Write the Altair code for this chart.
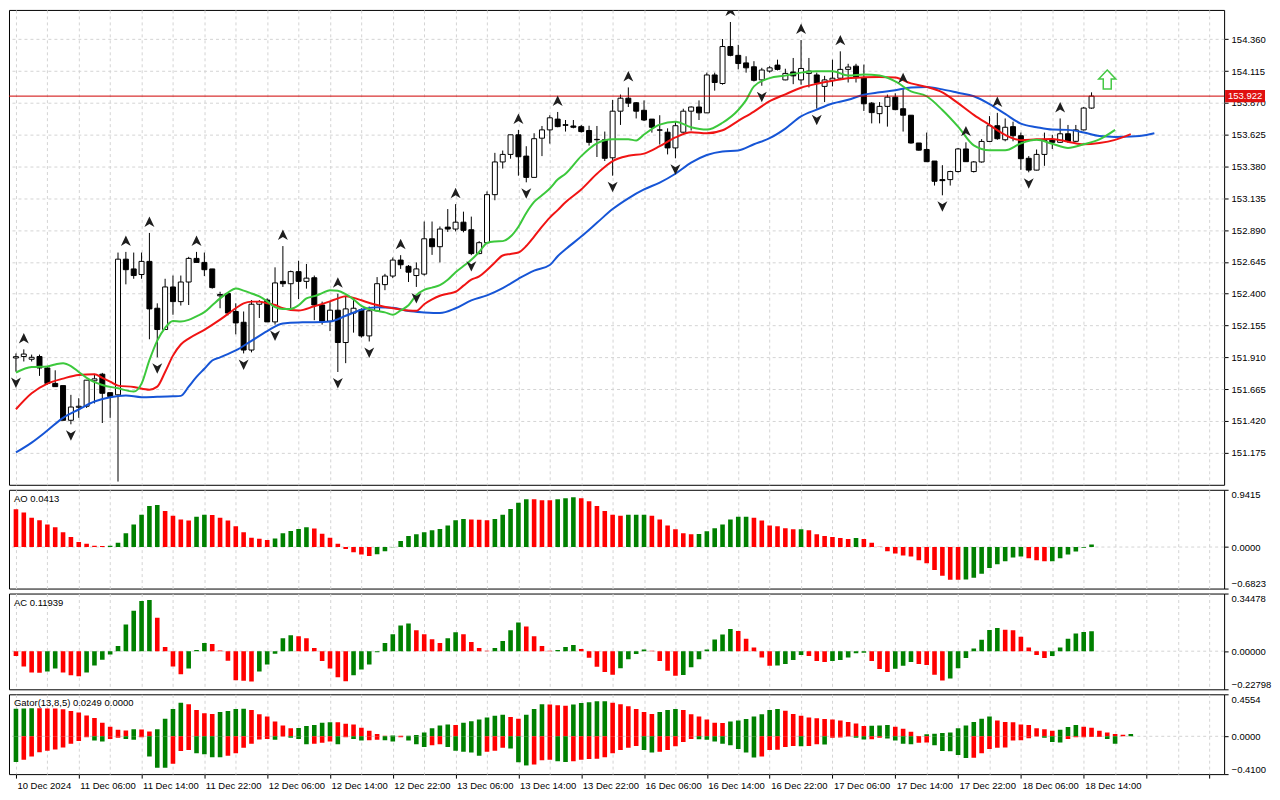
import altair as alt
import pandas as pd

FONT = "Liberation Sans"
FS = 9.5
GREEN = "#008000"
RED = "#ff0000"
GRID = "#d4d4d4"

# ---------------- price data (H1 bars, index 0 = 10 Dec 22:00) ----------------
OPENS = [151.905,
 151.916,151.895,151.916,151.828,151.709,151.692,151.425,151.525,151.533,151.729,
 151.780,151.638,151.621,152.666,152.591,152.548,152.649,152.288,152.124,152.452,
 152.339,152.490,152.672,152.641,152.591,152.384,152.402,152.263,152.180,151.966,
 152.319,152.351,152.183,152.495,152.477,152.570,152.495,152.523,152.313,152.188,
 152.273,152.024,152.251,152.276,152.075,152.268,152.470,152.536,152.659,152.611,
 152.540,152.551,152.823,152.762,152.913,152.898,152.951,152.893,152.709,152.793,
 153.163,153.415,153.473,153.624,153.460,153.296,153.598,153.662,153.745,153.702,
 153.692,153.687,153.657,153.589,153.586,153.447,153.806,153.906,153.871,153.813,
 153.745,153.662,153.644,153.523,153.644,153.806,153.838,153.793,154.085,154.019,
 154.304,154.236,154.178,154.148,154.047,154.115,154.161,154.047,154.108,154.047,
 154.097,154.085,153.997,154.044,154.060,154.128,154.153,154.065,153.868,153.787,
 153.843,153.914,153.825,153.775,153.561,153.511,153.422,153.279,153.279,153.341,
 153.515,153.341,153.415,153.573,153.694,153.586,153.687,153.617,153.443,153.352,
 153.473,153.586,153.566,153.632,153.574,153.662,153.830]
HIGHS = [151.940,
 151.971,151.931,151.931,151.843,151.810,151.692,151.621,151.595,151.734,151.782,
 151.790,151.638,152.717,152.722,152.717,152.717,152.868,152.326,152.515,152.540,
 152.540,152.684,152.722,152.717,152.591,152.415,152.402,152.326,152.263,152.351,
 152.351,152.364,152.603,152.767,152.578,152.654,152.629,152.540,152.339,152.339,
 152.400,152.381,152.370,152.288,152.301,152.528,152.553,152.679,152.697,152.621,
 152.641,152.956,152.956,152.918,153.052,153.090,153.032,152.994,152.805,153.188,
 153.485,153.503,153.624,153.662,153.536,153.636,153.692,153.775,153.800,153.738,
 153.738,153.700,153.694,153.692,153.649,153.893,153.934,153.989,153.876,153.889,
 153.745,153.775,153.674,153.725,153.825,153.843,153.889,154.103,154.103,154.362,
 154.493,154.317,154.229,154.191,154.140,154.153,154.203,154.133,154.216,154.354,
 154.216,154.103,154.078,154.203,154.267,154.171,154.171,154.165,153.876,153.876,
 153.934,153.944,153.976,153.775,153.561,153.641,153.422,153.390,153.347,153.523,
 153.566,153.422,153.591,153.768,153.793,153.750,153.725,153.641,153.460,153.511,
 153.641,153.624,153.750,153.700,153.700,153.838,153.951]
LOWS = [151.800,
 151.878,151.878,151.767,151.699,151.684,151.425,151.394,151.444,151.520,151.555,
 151.404,151.444,150.953,152.472,152.515,152.515,152.049,151.910,152.124,152.238,
 152.309,152.313,152.641,152.536,152.439,152.288,152.233,152.087,151.940,151.948,
 152.213,152.183,152.162,152.452,152.288,152.359,152.439,152.196,152.162,152.112,
 151.797,151.865,152.100,152.062,152.032,152.263,152.427,152.520,152.591,152.490,
 152.452,152.540,152.699,152.641,152.876,152.880,152.873,152.697,152.704,152.793,
 153.120,153.364,153.440,153.309,153.258,153.296,153.460,153.556,153.682,153.649,
 153.674,153.641,153.541,153.453,153.422,153.309,153.700,153.838,153.750,153.730,
 153.641,153.549,153.473,153.443,153.641,153.657,153.738,153.793,153.964,154.010,
 154.229,154.128,154.103,154.035,154.002,154.103,154.120,154.044,154.014,154.010,
 153.989,153.825,153.876,153.997,154.052,154.027,154.027,153.808,153.712,153.712,
 153.687,153.813,153.649,153.556,153.503,153.417,153.233,153.158,153.233,153.334,
 153.417,153.334,153.409,153.568,153.586,153.574,153.574,153.354,153.335,153.350,
 153.385,153.515,153.561,153.561,153.568,153.657,153.825]
CLOSES = [151.915,
 151.935,151.910,151.828,151.709,151.684,151.425,151.527,151.533,151.734,151.744,
 151.633,151.608,152.666,152.585,152.540,152.649,152.283,152.124,152.452,152.339,
 152.490,152.672,152.641,152.585,152.447,152.394,152.251,152.175,151.966,152.319,
 152.339,152.183,152.483,152.477,152.570,152.495,152.520,152.313,152.188,152.273,
 152.024,152.283,152.288,152.075,152.268,152.477,152.536,152.659,152.623,152.566,
 152.591,152.823,152.762,152.898,152.898,152.951,152.888,152.709,152.793,153.163,
 153.415,153.473,153.624,153.455,153.296,153.594,153.662,153.755,153.687,153.697,
 153.682,153.649,153.566,153.586,153.443,153.806,153.906,153.868,153.806,153.738,
 153.682,153.660,153.523,153.694,153.806,153.838,153.793,154.085,154.027,154.304,
 154.236,154.173,154.140,154.044,154.123,154.140,154.128,154.097,154.078,154.135,
 154.115,154.022,154.047,154.060,154.128,154.146,154.065,153.863,153.795,153.843,
 153.914,153.818,153.775,153.561,153.506,153.417,153.266,153.271,153.341,153.515,
 153.417,153.415,153.573,153.694,153.594,153.682,153.617,153.440,153.352,153.473,
 153.581,153.566,153.632,153.574,153.662,153.830,153.922]

UP_FRACTALS = [1, 14, 17, 23, 34, 41, 49, 56, 64, 69, 78, 91, 100, 105, 113, 121, 125, 133]
DOWN_FRACTALS = [0, 7, 13, 18, 29, 33, 41, 45, 51, 58, 65, 76, 84, 95, 102, 118, 129]

# Alligator lines (bar index, price) as drawn (already shifted)
JAW_IDX = [0,2,4,6,8,10,12,14,16,18,20,21,22,23,24,25,26,28,30,32,34,36,38,40,42,44,46,48,50,52,54,56,58,60,62,64,66,68,69,70,
           72,74,76,78,80,82,84,86,88,90,92,94,96,98,100,102,104,106,108,110,112,114,116,118,120,122,124,126,128,130,132,134,136,138,140,142,144,145]
JAW_VAL = [151.177,151.253,151.346,151.444,151.508,151.570,151.603,151.616,151.603,151.606,151.610,151.613,151.684,151.759,151.822,151.885,151.910,151.963,152.037,152.112,
           152.171,152.179,152.180,152.185,152.230,152.277,152.296,152.291,152.266,152.256,152.251,152.288,152.349,152.387,152.443,152.515,152.578,152.621,152.689,152.742,
           152.840,152.946,153.052,153.135,153.203,153.256,153.324,153.409,153.468,153.496,153.503,153.551,153.598,153.672,153.766,153.818,153.865,153.894,153.933,153.951,
           153.967,153.989,153.992,153.974,153.948,153.921,153.861,153.785,153.710,153.683,153.664,153.662,153.642,153.614,153.608,153.611,153.623,153.636]
TEETH_IDX = [0,2,4,6,8,10,11,12,13,15,17,18,19,20,21,22,24,26,28,29,30,31,32,33,34,36,38,40,41,42,43,44,46,48,50,51,52,53,54,55,
             56,57,58,59,60,61,62,63,64,65,66,67,68,69,70,72,74,76,78,80,82,84,86,88,90,92,94,96,98,100,102,104,106,108,110,112,114,116,118,120,
             122,124,126,128,130,132,134,136,138,140,142]
TEETH_VAL = [151.510,151.633,151.707,151.746,151.774,151.780,151.752,151.722,151.692,151.682,151.661,151.684,151.797,151.923,152.009,152.054,152.122,152.200,152.288,152.326,
             152.339,152.339,152.326,152.313,152.288,152.271,152.303,152.341,152.364,152.381,152.368,152.349,152.313,152.288,152.271,152.268,152.319,152.356,152.384,152.400,
             152.415,152.462,152.508,152.533,152.583,152.641,152.694,152.706,152.717,152.767,152.840,152.916,152.986,153.044,153.105,153.203,153.324,153.422,153.462,153.479,
             153.536,153.604,153.644,153.636,153.659,153.732,153.803,153.883,153.936,153.987,154.017,154.040,154.060,154.067,154.070,154.065,154.020,153.993,153.951,153.868,
             153.778,153.700,153.623,153.583,153.589,153.592,153.571,153.551,153.561,153.585,153.629]
LIPS_IDX = [0,2,4,5,6,7,8,9,10,11,13,15,16,17,18,19,20,21,22,23,24,25,26,27,28,29,30,31,32,33,34,35,36,37,38,39,40,41,42,43,
            44,45,46,47,48,49,50,51,52,53,54,55,56,57,58,59,60,61,62,63,64,65,66,67,68,69,70,72,74,76,78,79,80,82,84,86,88,90,92,93,
            94,96,98,100,102,104,106,108,110,112,114,116,118,120,122,124,126,128,130,132,134,136,138,140]
LIPS_VAL = [151.793,151.835,151.840,151.855,151.865,151.843,151.797,151.752,151.719,151.697,151.671,151.646,151.707,151.888,152.039,152.137,152.190,152.185,152.198,152.226,
            152.258,152.311,152.364,152.409,152.440,152.424,152.402,152.379,152.341,152.296,152.282,152.283,152.311,152.364,152.381,152.404,152.427,152.422,152.396,152.356,
            152.306,152.281,152.268,152.256,152.238,152.271,152.311,152.389,152.430,152.447,152.466,152.507,152.566,152.613,152.661,152.721,152.791,152.802,152.805,152.840,
            152.916,153.022,153.107,153.158,153.211,153.279,153.324,153.460,153.558,153.589,153.589,153.581,153.626,153.702,153.725,153.682,153.664,153.717,153.815,153.891,
            153.997,154.061,154.080,154.103,154.114,154.114,154.080,154.088,154.080,154.035,153.959,153.921,153.815,153.687,153.543,153.505,153.505,153.558,153.585,153.555,
            153.523,153.551,153.589,153.662]

# ---------------- oscillators ----------------
AO = [0.621,0.568,0.483,0.441,0.372,0.324,0.244,0.165,0.085,0.053,
      0.021,0.018,0.022,0.069,0.228,0.372,0.531,0.674,0.690,0.594,
      0.515,0.451,0.435,0.499,0.531,0.529,0.483,0.435,0.340,0.244,
      0.154,0.138,0.117,0.140,0.228,0.265,0.297,0.324,0.303,0.218,
      0.154,0.053,-0.032,-0.085,-0.122,-0.149,-0.117,-0.069,-0.005,0.101,
      0.180,0.212,0.244,0.276,0.297,0.356,0.441,0.462,0.451,0.449,
      0.441,0.462,0.531,0.626,0.727,0.786,0.784,0.770,0.768,0.786,
      0.801,0.817,0.801,0.754,0.674,0.594,0.531,0.515,0.531,0.532,
      0.533,0.515,0.451,0.356,0.292,0.228,0.212,0.214,0.260,0.308,
      0.372,0.451,0.499,0.500,0.483,0.435,0.356,0.340,0.308,0.292,
      0.294,0.276,0.212,0.180,0.165,0.149,0.133,0.149,0.133,0.069,
      0.005,-0.069,-0.106,-0.138,-0.154,-0.218,-0.265,-0.377,-0.472,-0.536,
      -0.538,-0.535,-0.504,-0.441,-0.345,-0.281,-0.234,-0.170,-0.154,-0.186,
      -0.218,-0.234,-0.232,-0.186,-0.122,-0.074,-0.011,0.0413]
AC = [-0.0292,-0.0916,-0.1267,-0.1286,-0.1208,-0.1033,-0.1267,-0.1442,-0.1501,-0.1267,
      -0.0858,-0.0507,-0.0195,0.0312,0.1598,0.2417,0.3001,0.3060,0.2007,0.0253,
      -0.0916,-0.1384,-0.1033,0.0078,0.0487,0.0429,0.0039,-0.0565,-0.1735,-0.1774,
      -0.1813,-0.1208,-0.0799,-0.0156,0.0780,0.0955,0.0897,0.0780,0.0195,-0.0585,
      -0.1033,-0.1559,-0.1793,-0.1442,-0.1091,-0.0799,-0.0058,0.0487,0.1013,0.1540,
      0.1657,0.1247,0.1013,0.0721,0.0487,0.0780,0.1130,0.1013,0.0546,0.0195,
      0.0019,0.0195,0.0604,0.1247,0.1715,0.1481,0.0897,0.0312,0.0019,0.0078,
      0.0253,0.0370,0.0136,-0.0390,-0.0936,-0.1247,-0.1403,-0.1013,-0.0487,-0.0175,
      0.0097,0.0019,-0.0585,-0.1169,-0.1462,-0.1423,-0.0955,-0.0487,0.0097,0.0702,
      0.0994,0.1325,0.1208,0.0741,0.0214,-0.0370,-0.0877,-0.0858,-0.0760,-0.0526,
      -0.0234,-0.0292,-0.0585,-0.0643,-0.0585,-0.0526,-0.0370,-0.0117,-0.0097,-0.0585,
      -0.1072,-0.1247,-0.1052,-0.0877,-0.0643,-0.0760,-0.0819,-0.1403,-0.1754,-0.1637,
      -0.1013,-0.0409,0.0156,0.0682,0.1267,0.1384,0.1286,0.1247,0.0858,0.0214,
      -0.0234,-0.0409,-0.0292,0.0214,0.0741,0.1052,0.1150,0.11939]
GATOR_UP = [0.300,0.302,0.304,0.303,0.302,0.301,0.292,0.275,0.257,0.226,
            0.198,0.146,0.104,0.070,0.063,0.076,0.073,0.052,0.076,0.191,
            0.295,0.365,0.348,0.285,0.250,0.243,0.264,0.275,0.295,0.299,
            0.285,0.240,0.216,0.160,0.118,0.087,0.090,0.111,0.122,0.146,
            0.153,0.151,0.136,0.129,0.094,0.059,0.024,0.007,0.009,0.005,
            0.007,0.014,0.042,0.087,0.118,0.129,0.122,0.146,0.163,0.181,
            0.205,0.222,0.233,0.209,0.191,0.233,0.295,0.348,0.344,0.337,
            0.330,0.344,0.362,0.368,0.379,0.380,0.365,0.348,0.327,0.295,
            0.264,0.243,0.264,0.285,0.295,0.285,0.240,0.216,0.181,0.146,
            0.143,0.160,0.170,0.188,0.216,0.240,0.285,0.295,0.278,0.243,
            0.222,0.205,0.195,0.188,0.181,0.170,0.156,0.139,0.111,0.115,
            0.118,0.122,0.104,0.083,0.049,0.003,0.021,0.028,0.035,0.042,
            0.087,0.118,0.156,0.191,0.216,0.170,0.156,0.153,0.129,0.122,
            0.087,0.076,0.059,0.070,0.101,0.122,0.104,0.094,0.059,0.042,
            0.024,0.017,0.0249]
GATOR_DN = [-0.278,-0.254,-0.219,-0.174,-0.156,-0.143,-0.122,-0.080,-0.052,-0.010,
            -0.045,-0.056,-0.028,-0.017,-0.028,-0.038,-0.010,-0.219,-0.341,-0.342,
            -0.299,-0.160,-0.149,-0.184,-0.195,-0.226,-0.228,-0.212,-0.184,-0.125,
            -0.080,-0.035,-0.028,-0.038,-0.003,-0.017,-0.028,-0.087,-0.080,-0.070,
            -0.056,-0.087,-0.010,-0.028,-0.045,-0.043,-0.038,-0.042,-0.056,-0.010,
            -0.045,-0.087,-0.115,-0.097,-0.087,-0.115,-0.156,-0.167,-0.177,-0.212,
            -0.167,-0.156,-0.125,-0.132,-0.282,-0.316,-0.306,-0.261,-0.254,-0.271,
            -0.278,-0.271,-0.254,-0.247,-0.243,-0.226,-0.184,-0.149,-0.125,-0.104,
            -0.149,-0.177,-0.167,-0.149,-0.108,-0.063,-0.028,-0.031,-0.038,-0.056,
            -0.080,-0.097,-0.139,-0.177,-0.229,-0.219,-0.149,-0.146,-0.115,-0.104,
            -0.108,-0.104,-0.087,-0.090,-0.017,-0.014,-0.003,-0.017,-0.035,-0.031,
            -0.017,-0.024,-0.045,-0.080,-0.087,-0.070,-0.066,-0.097,-0.160,-0.163,
            -0.202,-0.236,-0.233,-0.184,-0.139,-0.125,-0.122,-0.045,-0.042,-0.021,
            -0.003,-0.017,-0.063,-0.066,-0.028,-0.010,-0.009,-0.008,-0.007,-0.028,
            -0.080]

TICK_LABELS = ["10 Dec 2024", "11 Dec 06:00", "11 Dec 14:00", "11 Dec 22:00", "12 Dec 06:00",
               "12 Dec 14:00", "12 Dec 22:00", "13 Dec 06:00", "13 Dec 14:00", "13 Dec 22:00",
               "16 Dec 06:00", "16 Dec 14:00", "16 Dec 22:00", "17 Dec 06:00", "17 Dec 14:00",
               "17 Dec 22:00", "18 Dec 06:00", "18 Dec 14:00"]
PRICE_TICKS = [151.175, 151.420, 151.665, 151.910, 152.155, 152.400, 152.645,
               152.890, 153.135, 153.380, 153.625, 153.870, 154.115, 154.360]
PRICE_RANGE = [150.928, 154.586]
LAST_PRICE = 153.922
BUY_SIGNAL_I = [139]
BUY_SIGNAL_P = [154.05]
AO_RANGE = [-0.6823, 0.9415]
AC_RANGE = [-0.22798, 0.34478]
GATOR_RANGE = [-0.4100, 0.4554]
AO_LABEL = "AO 0.0413"
AC_LABEL = "AC 0.11939"
GATOR_LABEL = "Gator(13,8,5) 0.0249 0.0000"

# ---------------- layout ----------------
W = 1218
H_MAIN, H_AO, H_AC, H_GT = 476, 99, 96, 80
XDOM = [-0.25, 153.25]
GRID_X = list(range(0, 154, 4))
xscale = alt.Scale(domain=XDOM, nice=False, zero=False)


def grid_axis():
    return alt.Axis(values=GRID_X, grid=True, gridColor=GRID, gridDash=[3, 3], gridWidth=1,
                    labels=False, ticks=False, domain=False, title=None)


label_expr = ("datum.value % 8 === 0 ? " + str(TICK_LABELS) + "[datum.value / 8] : ''")


def bottom_axis():
    return alt.Axis(values=GRID_X, grid=True, gridColor=GRID, gridDash=[3, 3], gridWidth=1,
                    labels=True, labelExpr=label_expr, labelAlign="left", labelBaseline="top",
                    labelPadding=2, labelFont=FONT, labelFontSize=FS, labelColor="black",
                    labelOverlap=False, labelBound=False, labelFlush=False, labelOffset=1,
                    ticks=True, tickSize=4, tickColor="black",
                    tickOpacity={"condition": {"test": "datum.value % 8 === 0", "value": 1}, "value": 0},
                    domain=False, title=None)


def X(field="i", axis=None):
    return alt.X(f"{field}:Q", scale=xscale, axis=axis if axis is not None else grid_axis())


main_yscale = alt.Scale(domain=PRICE_RANGE, nice=False, zero=False)
main_yaxis = alt.Axis(orient="right", values=PRICE_TICKS, format=".3f", grid=True, gridColor=GRID,
                      gridDash=[3, 3], tickSize=4, tickColor="black", domain=False,
                      labelFont=FONT, labelFontSize=FS, labelColor="black", labelPadding=3, title=None)


def YM(field):
    return alt.Y(f"{field}:Q", scale=main_yscale, axis=main_yaxis)


candles = pd.DataFrame({"i": list(range(len(OPENS))), "o": OPENS, "h": HIGHS, "l": LOWS, "c": CLOSES})
candles["fc"] = ["white" if c >= o else "black" for o, c in zip(candles.o, candles.c)]

wicks = alt.Chart(candles).mark_rule(color="black", strokeWidth=1, clip=True).encode(
    x=X(), y=YM("l"), y2="h:Q")
bodies = alt.Chart(candles).mark_bar(size=5, stroke="black", strokeWidth=1, clip=True).encode(
    x=X(), y=YM("o"), y2="c:Q", fill=alt.Fill("fc:N", scale=None))


def line_layer(idx, vals, color):
    df = pd.DataFrame(list(zip(idx, vals)), columns=["i", "v"])
    return alt.Chart(df).mark_line(color=color, strokeWidth=2, interpolate="monotone", clip=True).encode(
        x=X(), y=YM("v"))


jaw = line_layer(JAW_IDX, JAW_VAL, "#1655d6")
teeth = line_layer(TEETH_IDX, TEETH_VAL, "#f01414")
lips = line_layer(LIPS_IDX, LIPS_VAL, "#3cc83c")

# fractal arrowheads: drawn a few pixels beyond the bar's high / low
UP_PATH = "M0,-3.3 L1.0,-1.2 L0,-1.8 L-1.0,-1.2 Z"
DN_PATH = "M0,3.3 L1.0,1.2 L0,1.8 L-1.0,1.2 Z"
up_df = pd.DataFrame({"i": UP_FRACTALS, "p": [HIGHS[k] for k in UP_FRACTALS]})
dn_df = pd.DataFrame({"i": DOWN_FRACTALS, "p": [LOWS[k] for k in DOWN_FRACTALS]})
frac_up = alt.Chart(up_df).mark_point(shape=UP_PATH, size=100, filled=True, color="#1e1e1e",
                                      opacity=1, clip=True).encode(x=X(), y=YM("p"))
frac_dn = alt.Chart(dn_df).mark_point(shape=DN_PATH, size=100, filled=True, color="#1e1e1e",
                                      opacity=1, clip=True).encode(x=X(), y=YM("p"))

price_df = pd.DataFrame({"p": [LAST_PRICE], "t": [f"{LAST_PRICE:.3f}"]})
price_line = alt.Chart(price_df).mark_rule(color="#d00000", strokeWidth=1).encode(y=YM("p"))
price_box = alt.Chart(price_df).mark_point(shape="M-2,-0.62 H2 V0.62 H-2 Z", size=400, filled=True,
                                           color="#e01010", opacity=1, strokeWidth=0).encode(
    x=alt.value(W + 21), y=YM("p"))
price_txt = alt.Chart(price_df).mark_text(color="white", font=FONT, fontSize=FS, align="center",
                                          baseline="middle").encode(x=alt.value(W + 21), y=YM("p"), text="t:N")

buy_df = pd.DataFrame({"i": BUY_SIGNAL_I, "p": BUY_SIGNAL_P})
ARROW_PATH = "M0,-1 L0.9,-0.05 L0.42,-0.05 L0.42,1 L-0.42,1 L-0.42,-0.05 L-0.9,-0.05 Z"
buy = alt.Chart(buy_df).mark_point(shape=ARROW_PATH, size=361, filled=True, fill="white",
                                   stroke="#44c844", strokeWidth=1.5, opacity=1).encode(x=X(), y=YM("p"))

main = alt.layer(wicks, bodies, jaw, teeth, lips, price_line, frac_up, frac_dn, buy,
                 price_box, price_txt).properties(width=W, height=H_MAIN)


# ---------------- oscillator panels ----------------
def hist_colors(vals, first, magnitude=False):
    out = [first]
    for a, b in zip(vals[:-1], vals[1:]):
        if magnitude:
            a, b = abs(a), abs(b)
        out.append(GREEN if b > a else RED)
    return out


def osc_panel(series_list, rng, fmt, label, height, x_axis=None):
    yscale = alt.Scale(domain=rng, nice=False, zero=False)
    yaxis = alt.Axis(orient="right", values=[rng[0], 0, rng[1]], format=fmt, grid=False, tickSize=4,
                     tickColor="black", domain=False, labelFlush=True, labelFont=FONT,
                     labelFontSize=FS, labelColor="black", labelPadding=3, title=None)
    layers = []
    zero = alt.Chart(pd.DataFrame({"z": [0]})).mark_rule(color=GRID, strokeDash=[3, 3]).encode(
        y=alt.Y("z:Q", scale=yscale, axis=yaxis))
    layers.append(zero)
    for vals, first, mag in series_list:
        df = pd.DataFrame({"i": list(range(len(vals))), "v": vals,
                           "col": hist_colors(vals, first, mag)})
        layers.append(alt.Chart(df).mark_bar(size=4.6, clip=True).encode(
            x=X(axis=x_axis), y=alt.Y("v:Q", scale=yscale, axis=yaxis), y2=alt.datum(0),
            color=alt.Color("col:N", scale=None)))
    txt = alt.Chart(pd.DataFrame({"t": [label]})).mark_text(
        align="left", baseline="top", font=FONT, fontSize=FS, color="black").encode(
        x=alt.value(5), y=alt.value(4), text="t:N")
    layers.append(txt)
    return alt.layer(*layers).properties(width=W, height=height)


ao = osc_panel([(AO, RED, False)], AO_RANGE, ".4f", AO_LABEL, H_AO)
ac = osc_panel([(AC, RED, False)], AC_RANGE, ".5f", AC_LABEL, H_AC)
gator = osc_panel([(GATOR_UP, GREEN, True), (GATOR_DN, GREEN, True)], GATOR_RANGE, ".4f",
                  GATOR_LABEL, H_GT, x_axis=bottom_axis())

chart = alt.vconcat(main, ao, ac, gator, spacing=3).properties(
    padding={"left": 0, "top": 0, "right": 0, "bottom": 0}, background="white"
).configure_view(stroke="black", strokeWidth=1)

chart.save("out.html", embed_options={"renderer": "svg", "actions": False})
